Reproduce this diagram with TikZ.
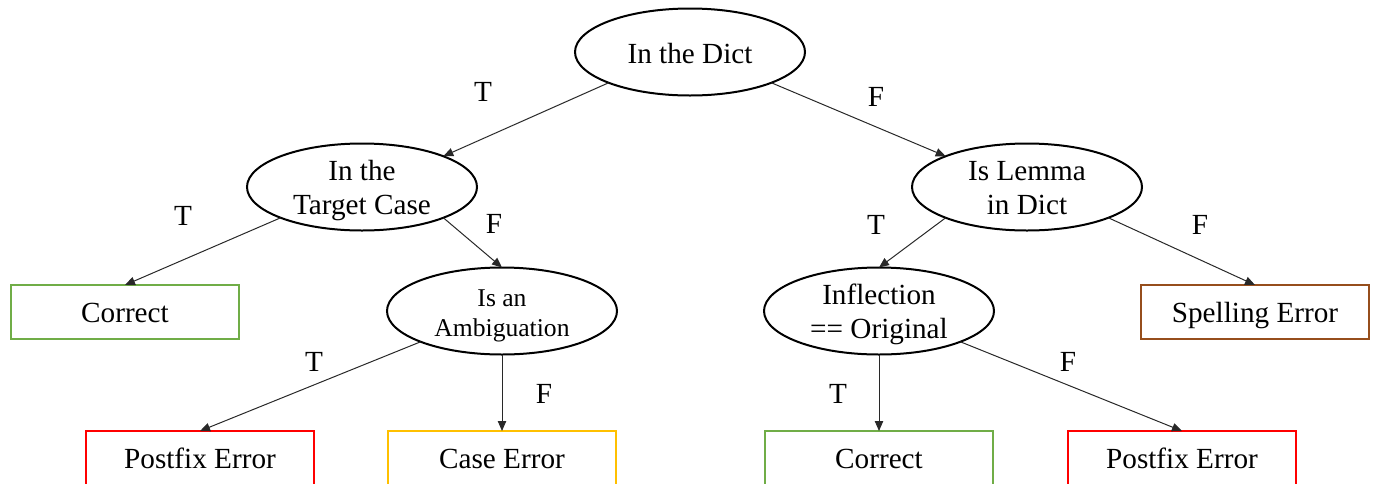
\documentclass[tikz,border=0pt]{standalone}
\usepackage{fontspec}
\setmainfont{Liberation Serif}
\usetikzlibrary{shapes.geometric,arrows.meta}
\definecolor{okgreen}{RGB}{112,173,71}
\definecolor{errred}{RGB}{255,0,0}
\definecolor{caseyellow}{RGB}{255,192,0}
\definecolor{spellbrown}{RGB}{150,78,28}
\definecolor{edgegray}{RGB}{40,40,40}
\begin{document}
\begin{tikzpicture}[x=0.5pt,y=-0.5pt,
  txt/.style={font=\fontsize{14.6}{17}\selectfont, align=center},
  decision/.style={txt, ellipse, draw=black, line width=1pt, minimum width=115pt, minimum height=43.5pt, inner sep=0pt, outer sep=0pt},
  oneline/.style={text height=12pt, text depth=1pt},
  twoline/.style={text height=28pt, text depth=1pt},
  smalltwoline/.style={font=\fontsize{12.8}{15}\selectfont, text height=26pt, text depth=1pt},
  leaf/.style={txt, rectangle, draw=#1, line width=1pt, minimum width=114pt, minimum height=27pt, inner sep=0pt, outer sep=0pt, text height=11pt, text depth=1pt},
  conn/.style={draw=edgegray, line width=0.5pt, -{Triangle[length=5pt,width=4.2pt]}},
  lab/.style={txt}]
\useasboundingbox (0,0) rectangle (1375,483);
\clip (0,0) rectangle (1375,483);
% decision nodes
\node[decision, oneline] (root) at (690,52) {In the Dict};
\node[decision, twoline] (target) at (362,187) {In the\\Target Case};
\node[decision, twoline] (lemma) at (1027,187) {Is Lemma\\in Dict};
\node[decision, smalltwoline] (ambig) at (502,311) {Is an\\Ambiguation};
\node[decision, twoline] (infl) at (879,311) {Inflection\\== Original};
% leaves
\node[leaf=okgreen] (corr1) at (125,312) {Correct};
\node[leaf=spellbrown] (spell) at (1255,312) {Spelling Error};
\node[leaf=errred] (post1) at (200,458) {Postfix Error};
\node[leaf=caseyellow] (case) at (502,458) {Case Error};
\node[leaf=okgreen] (corr2) at (879,458) {Correct};
\node[leaf=errred] (post2) at (1182,458) {Postfix Error};
% connectors
\draw[conn] (root.south west) -- (target.north east);
\draw[conn] (root.south east) -- (lemma.north west);
\draw[conn] (target.south west) -- (corr1.north);
\draw[conn] (target.south east) -- (ambig.north);
\draw[conn] (lemma.south west) -- (infl.north);
\draw[conn] (lemma.south east) -- (spell.north);
\draw[conn] (ambig.south west) -- (post1.north);
\draw[conn] (ambig.south) -- (case.north);
\draw[conn] (infl.south) -- (corr2.north);
\draw[conn] (infl.south east) -- (post2.north);
% labels
\node[lab] (l1) at (483,92) {T};
\node[lab] (l2) at (876,97) {F};
\node[lab] (l3) at (183,216) {T};
\node[lab] (l4) at (494,224) {F};
\node[lab] (l5) at (876,225) {T};
\node[lab] (l6) at (1200,225) {F};
\node[lab] (l7) at (314,362) {T};
\node[lab] (l8) at (544,394) {F};
\node[lab] (l9) at (838,394) {T};
\node[lab] (l10) at (1068,362) {F};
\end{tikzpicture}
\end{document}
